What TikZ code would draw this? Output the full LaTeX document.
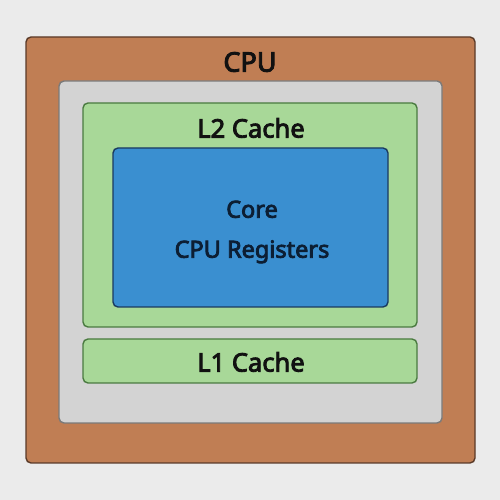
\documentclass[tikz,border=0pt]{standalone}
\usepackage{fontspec}
\setmainfont{Noto Sans}[BoldFont=*,BoldFeatures={FakeBold=3.5}]
\definecolor{bg}{HTML}{EBEBEB}
\definecolor{cpufill}{HTML}{C07E54}
\definecolor{cpuline}{HTML}{5A3A28}
\definecolor{grayfill}{HTML}{D3D3D3}
\definecolor{grayline}{HTML}{7A7A7A}
\definecolor{greenfill}{HTML}{A8D898}
\definecolor{greenline}{HTML}{4A7A40}
\definecolor{bluefill}{HTML}{3A8FD0}
\definecolor{blueline}{HTML}{1A3A60}
\definecolor{txt}{HTML}{111111}
\definecolor{coretxt}{HTML}{0C1E33}
\begin{document}
\begin{tikzpicture}[x=1pt,y=1pt,
  box/.style={rounded corners=5pt,line width=1.4pt},
  lbl/.style={text=txt,font=\fontsize{25.5}{28}\selectfont\bfseries}]
\fill[bg] (0,0) rectangle (500,500);
\useasboundingbox (0,0) rectangle (500,500);
\draw[box,fill=cpufill,draw=cpuline] (26,37) rectangle (475,463);
\node[lbl,font=\fontsize{27}{28}\selectfont\bfseries] (cpu) at (250,438) {CPU};
\draw[box,fill=grayfill,draw=grayline] (59,77) rectangle (442,419);
\draw[box,fill=greenfill,draw=greenline] (83,173) rectangle (417,397);
\node[lbl] (l2) at (251,372) {L2 Cache};
\draw[box,fill=bluefill,draw=blueline] (113,193) rectangle (388,352);
\node[lbl,align=center,text=coretxt,font=\fontsize{23.5}{40}\selectfont\bfseries] (core) at (252,268) {Core\\CPU Registers};
\draw[box,fill=greenfill,draw=greenline] (83,117) rectangle (417,161);
\node[lbl] (l1) at (251,138) {L1 Cache};
\end{tikzpicture}
\end{document}
